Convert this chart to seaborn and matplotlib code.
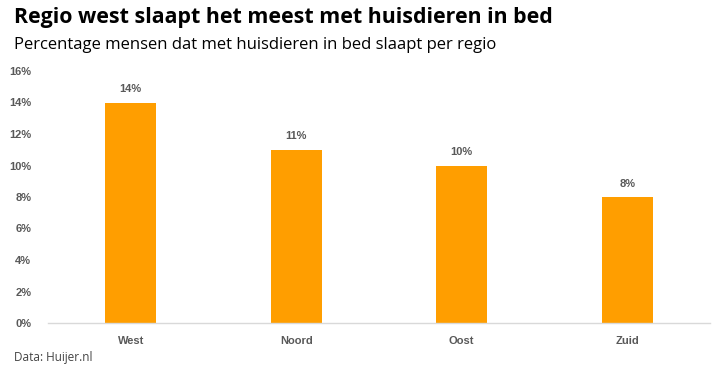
import matplotlib
matplotlib.use("Agg")
import matplotlib.pyplot as plt
import seaborn as sns
import pandas as pd
from matplotlib.ticker import FuncFormatter

regions = ["West", "Noord", "Oost", "Zuid"]
values = [14, 11, 10, 8]
value_labels = ["14%", "11%", "10%", "8%"]
yticks = [0, 2, 4, 6, 8, 10, 12, 14, 16]

title = "Regio west slaapt het meest met huisdieren in bed"
subtitle = "Percentage mensen dat met huisdieren in bed slaapt per regio"
source = "Data: Huijer.nl"

df = pd.DataFrame({"regio": regions, "pct": values})

sns.set_theme(style="white")
plt.rcParams["font.family"] = ["Liberation Sans", "DejaVu Sans"]

fig = plt.figure(figsize=(7.27, 3.72), dpi=100)
ax = fig.add_axes([48 / 727, 1 - 323 / 372, (710 - 48) / 727, (323 - 71) / 372])

sns.barplot(data=df, x="regio", y="pct", color="#FF9E00", width=0.31,
            saturation=1, ax=ax, edgecolor="none")

ax.set_ylim(0, 16)
ax.set_xlim(-0.5, 3.5)
ax.set_yticks(yticks)
ax.yaxis.set_major_formatter(FuncFormatter(lambda v, p: f"{int(v)}%"))
ax.set_xlabel("")
ax.set_ylabel("")
for s in ["top", "right", "left"]:
    ax.spines[s].set_visible(False)
ax.spines["bottom"].set_color("#D9D9D9")
ax.spines["bottom"].set_linewidth(1)
ax.tick_params(axis="both", length=0, colors="#595959", labelsize=8)
ax.tick_params(axis="x", pad=9)
ax.tick_params(axis="y", pad=12)
for lab in ax.get_xticklabels() + ax.get_yticklabels():
    lab.set_fontweight("bold")
    lab.set_color("#595959")

ax.bar_label(ax.containers[0], labels=value_labels, padding=6,
             fontsize=8, fontweight="bold", color="#595959")

fig.text(14 / 727, 1 - 18 / 372, title, fontsize=15.4, fontweight="bold",
         family=["Open Sans", "DejaVu Sans"], color="#000000", va="center", ha="left")
fig.text(14 / 727, 1 - 45 / 372, subtitle, fontsize=12,
         family=["Open Sans", "DejaVu Sans"], color="#000000", va="center", ha="left")
fig.text(14 / 727, 1 - 357 / 372, source, fontsize=8.5,
         family=["Open Sans", "DejaVu Sans"], color="#444444", va="center", ha="left")

fig.savefig("out.png", dpi=100, facecolor="white")
